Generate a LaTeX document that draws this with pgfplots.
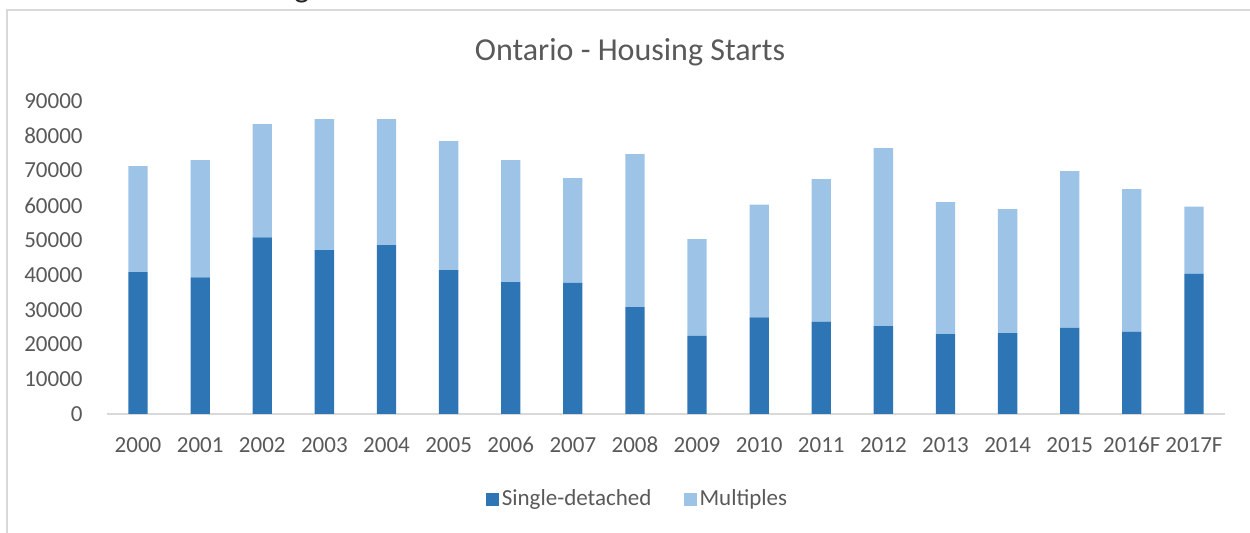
\documentclass[border=0pt]{standalone}
\usepackage{pgfplots}
\pgfplotsset{compat=1.18}
\usepackage{fontspec}
\setmainfont{Carlito}
\definecolor{sd}{HTML}{2E75B6}
\definecolor{mu}{HTML}{9DC3E6}
\definecolor{txt}{HTML}{595959}
\definecolor{brd}{HTML}{D9D9D9}
\begin{document}
\begin{tikzpicture}
\useasboundingbox (0,0) rectangle (625bp,266.5bp);
\draw[brd, line width=1bp] (3.5bp,-5bp) -- (3.5bp,261.5bp) -- (630bp,261.5bp);
\node[anchor=base, inner sep=0pt, font=\fontsize{16bp}{19bp}\selectfont, text=black!85] at (151bp,267.5bp) {g};
\begin{axis}[
 at={(53.5bp,59.5bp)}, anchor=south west,
 scale only axis, width=559bp, height=156.5bp,
 ybar stacked, bar width=9.65bp,
 xmin=-0.5, xmax=17.5, ymin=0, ymax=90000,
 xtick=data,
 xticklabels={2000,2001,2002,2003,2004,2005,2006,2007,2008,2009,2010,2011,2012,2013,2014,2015,2016F,2017F},
 ytick={0,10000,20000,30000,40000,50000,60000,70000,80000,90000},
 scaled y ticks=false,
 /pgf/number format/assume math mode=true,
 /pgf/number format/set thousands separator={},
 /pgf/number format/fixed,
 major tick length=0pt,
 axis x line*=bottom, axis y line*=left,
 x axis line style={-, draw=brd, line width=0.75bp},
 y axis line style={draw=none},
 tick label style={font=\fontsize{11.5bp}{13bp}\selectfont, text=txt},
 yticklabel style={anchor=east, inner sep=0pt, xshift=-12bp},
 xticklabel style={anchor=base, inner sep=0pt, yshift=-19bp},
 legend columns=2,
 legend style={at={(0.4736,-0.2716)}, anchor=center, draw=none, fill=none,
   inner sep=0pt,
   nodes={inner sep=0pt, text=txt, font=\fontsize{11.5bp}{13bp}\selectfont},
   /tikz/every odd column/.append style={column sep=1.5bp},
   /tikz/every even column/.append style={column sep=16bp}},
]
\addplot[fill=sd, draw=none, legend image code/.code={\fill[sd] (0bp,-3.25bp) rectangle (6.5bp,3.25bp);}] coordinates {
 (0,40830) (1,39300) (2,50800) (3,47150) (4,48590) (5,41400) (6,37950) (7,37670) (8,30760)
 (9,22430) (10,27800) (11,26550) (12,25300) (13,23000) (14,23290) (15,24730) (16,23670) (17,40340)};
\addplot[fill=mu, draw=none, legend image code/.code={\fill[mu] (0bp,-3.25bp) rectangle (6.5bp,3.25bp);}] coordinates {
 (0,30470) (1,33700) (2,32580) (3,37670) (4,36230) (5,37090) (6,35080) (7,30190) (8,44000)
 (9,27890) (10,32380) (11,41020) (12,51180) (13,37950) (14,35650) (15,45140) (16,41020) (17,19260)};
\legend{Single-detached, Multiples}
\end{axis}
\node[anchor=base, inner sep=0pt, font=\fontsize{16bp}{19bp}\selectfont, text=txt] at (315bp,236bp) {Ontario - Housing Starts};
\end{tikzpicture}
\end{document}
